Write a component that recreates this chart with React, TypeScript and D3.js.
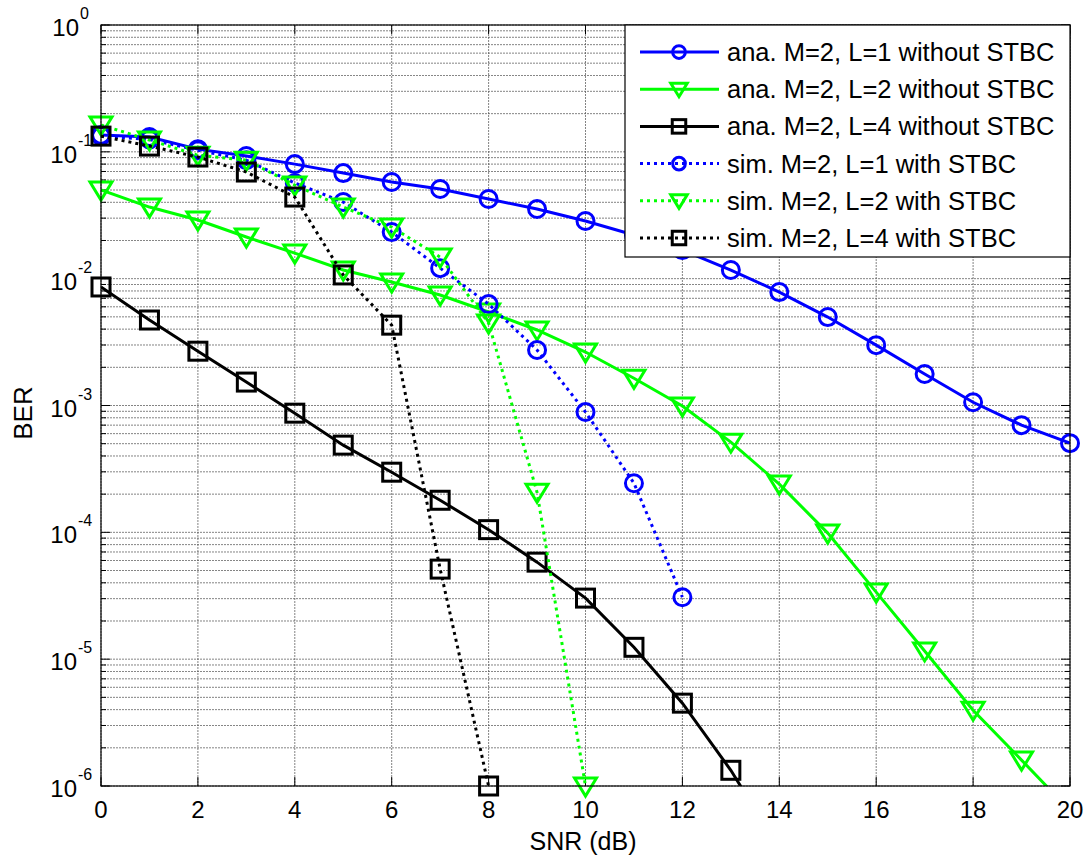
import React from "react";
import * as d3 from "d3";

const snr = d3.range(0, 21);
const anaL1 = [0.136, 0.131, 0.105, 0.0927, 0.08, 0.068, 0.0578, 0.0509, 0.0425, 0.0354, 0.0285, 0.0221, 0.0168, 0.0117, 0.00784, 0.00498, 0.00299, 0.00177, 0.00106, 0.0007, 0.000505];
const anaL2 = [0.05, 0.0367, 0.029, 0.0213, 0.0159, 0.0117, 0.0094, 0.00743, 0.00546, 0.00394, 0.00264, 0.00164, 0.00099, 0.000514, 0.00024, 9.86e-5, 3.38e-5, 1.16e-5, 3.96e-6, 1.6e-6, 6.4e-7];
const anaL4 = [0.0086, 0.00472, 0.00268, 0.00153, 0.00087, 0.000487, 0.000298, 0.000179, 0.000105, 5.82e-5, 3.03e-5, 1.24e-5, 4.5e-6, 1.33e-6, 3.2e-7];
const simL1 = [0.133, 0.125, 0.103, 0.086, 0.0568, 0.0402, 0.0233, 0.0121, 0.0063, 0.00274, 0.000888, 0.000244, 3.08e-5];
const simL2 = [0.163, 0.124, 0.094, 0.086, 0.0547, 0.0367, 0.0255, 0.0148, 0.00447, 0.000207, 1e-6];
const simL4 = [0.133, 0.111, 0.091, 0.0693, 0.044, 0.0107, 0.0043, 5.13e-5, 1e-6];

const xTicks = [0, 2, 4, 6, 8, 10, 12, 14, 16, 18, 20];
const yExps = [0, -1, -2, -3, -4, -5, -6];

const seriesNames = [
  "ana. M=2, L=1 without STBC",
  "ana. M=2, L=2 without STBC",
  "ana. M=2, L=4 without STBC",
  "sim. M=2, L=1 with STBC",
  "sim. M=2, L=2 with STBC",
  "sim. M=2, L=4 with STBC",
];
const seriesValues = [anaL1, anaL2, anaL4, simL1, simL2, simL4];
const seriesColors = ["#0000ff", "#00ff00", "#000000", "#0000ff", "#00ff00", "#000000"];
const seriesMarkers = ["o", "v", "s", "o", "v", "s"];
const seriesDotted = [false, false, false, true, true, true];

const W = 1086, H = 858;
const L = 101, R = 1070, T = 25, B = 786;
const FONT = "'Liberation Sans', Arial, sans-serif";

function Marker({ type, cx, cy, color, s = 1 }: { type: string; cx: number; cy: number; color: string; s?: number }) {
  const sw = 3;
  if (type === "o") return <circle cx={cx} cy={cy} r={8.5 * s} fill="none" stroke={color} strokeWidth={sw} />;
  if (type === "s")
    return <rect x={cx - 9 * s} y={cy - 9 * s} width={18 * s} height={18 * s} fill="none" stroke={color} strokeWidth={sw} />;
  const hw = 11 * s, top = cy - 8 * s, bot = cy + 10 * s;
  return <path d={`M${cx - hw},${top}L${cx + hw},${top}L${cx},${bot}Z`} fill="none" stroke={color} strokeWidth={sw} strokeLinejoin="miter" />;
}

export default function App() {
  const x = d3.scaleLinear().domain([0, 20]).range([L, R]);
  const y = d3.scaleLog().domain([1e-6, 1]).range([B, T]);

  const minorY: number[] = [];
  for (let e = -6; e < 0; e++) for (let m = 2; m <= 9; m++) minorY.push(m * Math.pow(10, e));

  const line = d3
    .line<number>()
    .x((_, i) => x(snr[i]))
    .y((d) => y(d));

  const gridStyle = { stroke: "#555", strokeWidth: 0.9, strokeDasharray: "2,1", opacity: 0.8 };

  const legX = 625, legY = 25, legW = 445, legH = 232;
  const rowY = (i: number) => 52 + i * 37.2;

  return (
    <svg width={W} height={H} style={{ position: "absolute", left: 0, top: 0, background: "#fff" }} fontFamily={FONT}>
      <rect width={W} height={H} fill="#fff" />
      <defs>
        <clipPath id="plotclip">
          <rect x={L} y={T} width={R - L} height={B - T} />
        </clipPath>
      </defs>
      {/* grid */}
      {minorY.map((v, i) => (
        <line key={"gy" + i} x1={L} x2={R} y1={y(v)} y2={y(v)} {...gridStyle} />
      ))}
      {yExps.map((e) => (
        <line key={"gY" + e} x1={L} x2={R} y1={y(Math.pow(10, e))} y2={y(Math.pow(10, e))} {...gridStyle} />
      ))}
      {xTicks.map((t) => (
        <line key={"gx" + t} x1={x(t)} x2={x(t)} y1={T} y2={B} {...gridStyle} />
      ))}
      {/* ticks */}
      {xTicks.map((t) => (
        <g key={"tx" + t}>
          <line x1={x(t)} x2={x(t)} y1={B} y2={B - 9} stroke="#000" strokeWidth={1} />
          <line x1={x(t)} x2={x(t)} y1={T} y2={T + 9} stroke="#000" strokeWidth={1} />
          <text x={x(t)} y={818} fontSize={24} textAnchor="middle" fill="#000">
            {t}
          </text>
        </g>
      ))}
      {minorY.map((v, i) => (
        <g key={"my" + i}>
          <line x1={L} x2={L + 5} y1={y(v)} y2={y(v)} stroke="#000" strokeWidth={1} />
          <line x1={R} x2={R - 5} y1={y(v)} y2={y(v)} stroke="#000" strokeWidth={1} />
        </g>
      ))}
      {yExps.map((e) => {
        const yy = y(Math.pow(10, e));
        const sup = String(e);
        return (
          <g key={"ty" + e}>
            <line x1={L} x2={L + 9} y1={yy} y2={yy} stroke="#000" strokeWidth={1} />
            <line x1={R} x2={R - 9} y1={yy} y2={yy} stroke="#000" strokeWidth={1} />
            <text x={e === 0 ? 79 : 77} y={yy + 11} fontSize={24} textAnchor="end" fill="#000">
              10
            </text>
            <text x={e === 0 ? 80 : 78} y={yy - 6} fontSize={16} textAnchor="start" fill="#000">
              {sup}
            </text>
          </g>
        );
      })}
      {/* series */}
      {seriesValues.map((vals, si) => (
        <g key={"s" + si}>
          <path
            d={line(vals) || ""}
            fill="none"
            stroke={seriesColors[si]}
            strokeWidth={seriesDotted[si] ? 3 : 3}
            strokeDasharray={seriesDotted[si] ? "3,4" : undefined}
            clipPath="url(#plotclip)"
          />
          {vals.map((v, i) =>
            v >= 1e-6 * 0.999 && v <= 1 ? (
              <Marker key={i} type={seriesMarkers[si]} cx={x(snr[i])} cy={y(v)} color={seriesColors[si]} />
            ) : null
          )}
        </g>
      ))}
      {/* axes box */}
      <rect x={L} y={T} width={R - L} height={B - T} fill="none" stroke="#000" strokeWidth={1.2} />
      {/* legend */}
      <rect x={legX} y={legY} width={legW} height={legH} fill="#fff" stroke="#000" strokeWidth={1.2} />
      {seriesNames.map((n, i) => (
        <g key={"lg" + i}>
          <line
            x1={640}
            x2={719}
            y1={rowY(i)}
            y2={rowY(i)}
            stroke={seriesColors[i]}
            strokeWidth={3}
            strokeDasharray={seriesDotted[i] ? "3,4" : undefined}
          />
          <Marker type={seriesMarkers[i]} cx={679} cy={rowY(i)} color={seriesColors[i]} s={0.75} />
          <text x={727} y={rowY(i) + 9} fontSize={25.5} fill="#000">
            {n}
          </text>
        </g>
      ))}
      {/* labels */}
      <text x={583} y={850} fontSize={25} textAnchor="middle" fill="#000">
        SNR (dB)
      </text>
      <text transform="translate(32,413) rotate(-90)" fontSize={26} textAnchor="middle" fill="#000">
        BER
      </text>
    </svg>
  );
}
